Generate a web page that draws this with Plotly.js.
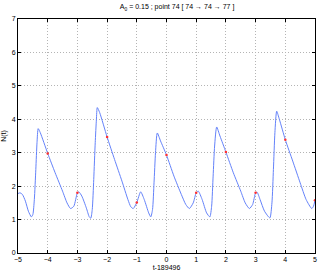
<!DOCTYPE html>
<html><head><meta charset="utf-8">
<script src="https://cdn.plot.ly/plotly-3.0.1.min.js"></script>
<style>html,body{margin:0;padding:0;background:#fff}#c{width:322px;height:273px}</style>
</head><body><div id="c"></div>
<script>
const tValues = [-5,-4.93,-4.85,-4.75,-4.65,-4.55,-4.5,-4.45,-4.4,-4.36,-4.32,-4.25,-4.0,-3.75,-3.5,-3.35,-3.23,-3.12,-3.0,-2.95,-2.85,-2.7,-2.6,-2.55,-2.5,-2.45,-2.4,-2.36,-2.33,-2.25,-2.0,-1.75,-1.5,-1.3,-1.2,-1.12,-1.0,-0.87,-0.75,-0.6,-0.53,-0.47,-0.42,-0.37,-0.31,-0.2,0,0.25,0.5,0.65,0.77,0.9,1.0,1.07,1.2,1.35,1.46,1.52,1.57,1.62,1.69,1.8,2.0,2.25,2.5,2.65,2.79,2.9,3.0,3.05,3.15,3.3,3.48,3.55,3.6,3.65,3.71,3.8,4.0,4.25,4.5,4.7,4.89,4.95,5.0];
const nValues = [1.78,1.80,1.75,1.55,1.25,1.08,1.15,1.6,2.5,3.3,3.72,3.6,2.98,2.4,1.85,1.5,1.33,1.4,1.80,1.83,1.7,1.35,1.08,1.04,1.3,2.2,3.3,4.0,4.35,4.2,3.47,2.8,2.15,1.6,1.38,1.33,1.51,1.83,1.6,1.2,1.08,1.3,2.1,3.0,3.59,3.35,2.93,2.3,1.75,1.45,1.33,1.5,1.80,1.85,1.6,1.2,1.08,1.4,2.3,3.2,3.77,3.5,3.02,2.4,1.85,1.5,1.33,1.45,1.80,1.82,1.6,1.25,1.05,1.5,2.5,3.6,4.24,4.0,3.39,2.75,2.1,1.6,1.33,1.4,1.58];
const tInt = [-4,-3,-2,-1,0,1,2,3,4,5];
const nInt = [2.98,1.80,3.47,1.51,2.93,1.80,3.02,1.80,3.39,1.58];
const xTicks = [-5,-4,-3,-2,-1,0,1,2,3,4,5];
const yTicks = [0,1,2,3,4,5,6,7];
const titleText = 'A<sub>0</sub> = 0.15 ; point 74 [ 74 → 74 → 77 ]';

const fnt = {family:'Liberation Sans, Arial, sans-serif', size:7, color:'#000'};
const axisCommon = {
  showline:true, linecolor:'#000', linewidth:1, mirror:'ticks',
  ticks:'inside', ticklen:3, tickcolor:'#000', tickwidth:1,
  showgrid:true, gridcolor:'#b4b4b4', griddash:'1px,2px', gridwidth:1,
  zeroline:false, tickfont:fnt
};
Plotly.newPlot('c', [
  {x:tValues, y:nValues, type:'scatter', mode:'lines', line:{color:'rgb(100,130,250)', width:1, shape:'spline', smoothing:0.6}, hoverinfo:'skip'},
  {x:tInt, y:nInt, type:'scatter', mode:'markers', marker:{color:'#ff3030', size:2.5}}
], {
  width:322, height:273, showlegend:false,
  margin:{l:18, r:7, t:19, b:20},
  paper_bgcolor:'#fff', plot_bgcolor:'#fff',
  title:{text:titleText, font:fnt, x:0.55, xanchor:'center', y:0.975, yanchor:'middle'},
  xaxis:Object.assign({}, axisCommon, {range:[-5,5], tickvals:xTicks, title:{text:'t-189496', font:fnt, standoff:2}}),
  yaxis:Object.assign({}, axisCommon, {range:[0,7], tickvals:yTicks, title:{text:'N(t)', font:fnt, standoff:4}})
}, {staticPlot:true});
</script></body></html>
